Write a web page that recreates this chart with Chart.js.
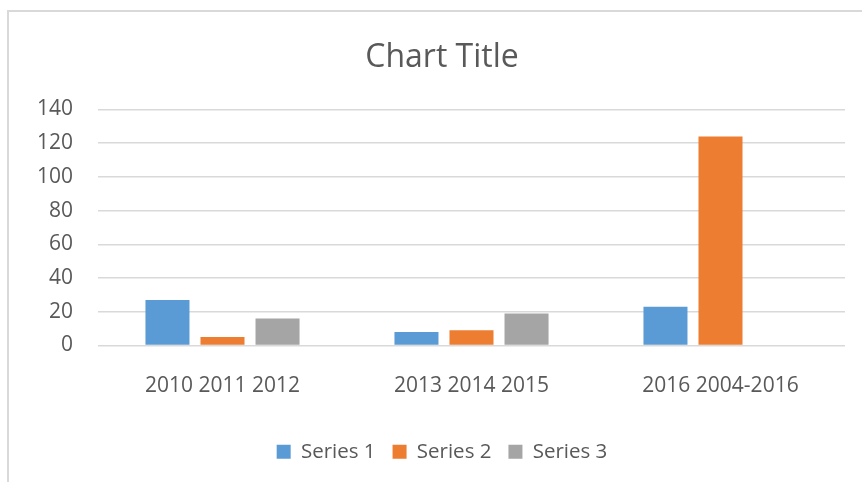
<!DOCTYPE html>
<html>
<head>
<meta charset="utf-8">
<script src="https://cdn.jsdelivr.net/npm/chart.js@4/dist/chart.umd.min.js"></script>
<style>
  html, body { margin: 0; padding: 0; background: #ffffff; }
  #wrap { position: relative; width: 862px; height: 482px; overflow: hidden; }
  #frame { position: absolute; left: 7px; top: 10px; width: 900px; height: 600px;
           border-left: 2px solid #d9d9d9; border-top: 2px solid #d9d9d9; pointer-events: none; }
  canvas { position: absolute; left: 0; top: 0; }
</style>
</head>
<body>
<div id="wrap">
  <canvas id="c" width="862" height="482"></canvas>
  <div id="frame"></div>
</div>
<script>
const categories = ["2010 2011 2012", "2013 2014 2015", "2016 2004-2016"];
const series1 = [27, 8, 23];
const series2 = [5, 9, 124];
const series3 = [16, 19, null];
const seriesNames = ["Series 1", "Series 2", "Series 3"];
const yTicks = [0, 20, 40, 60, 80, 100, 120, 140];

const FONT = "'Open Sans', 'Noto Sans', sans-serif";
const TEXT = "#595959";

new Chart(document.getElementById("c"), {
  type: "bar",
  data: {
    labels: categories,
    datasets: [
      { label: seriesNames[0], data: series1, backgroundColor: "#5b9bd5" },
      { label: seriesNames[1], data: series2, backgroundColor: "#ed7d31" },
      { label: seriesNames[2], data: series3, backgroundColor: "#a5a5a5" }
    ]
  },
  options: {
    responsive: false,
    animation: false,
    devicePixelRatio: 1,
    categoryPercentage: 0.663,
    barPercentage: 0.8,
    layout: { padding: { left: 39, right: 17, top: 0, bottom: 10 } },
    plugins: {
      title: {
        display: true,
        text: "Chart Title",
        color: TEXT,
        font: { family: FONT, size: 32, weight: "normal" },
        padding: { top: 39, bottom: 32 }
      },
      legend: {
        position: "bottom",
        labels: {
          color: TEXT,
          font: { family: FONT, size: 20.5 },
          boxWidth: 14,
          boxHeight: 14,
          padding: 17
        }
      },
      tooltip: { enabled: false }
    },
    scales: {
      x: {
        grid: { display: false, drawTicks: false },
        border: { display: false },
        ticks: { color: TEXT, font: { family: FONT, size: 21 }, padding: 28, maxRotation: 0 },
        afterFit: (s) => { s.height = 79; }
      },
      y: {
        min: 0,
        max: 140,
        afterBuildTicks: (s) => { s.ticks = yTicks.map(v => ({ value: v })); },
        grid: { color: "#d9d9d9", lineWidth: 1.5, drawTicks: false },
        border: { display: false },
        ticks: { color: TEXT, font: { family: FONT, size: 21 }, padding: 25 },
        afterFit: (s) => { s.width = 59; }
      }
    }
  }
});
</script>
</body>
</html>
